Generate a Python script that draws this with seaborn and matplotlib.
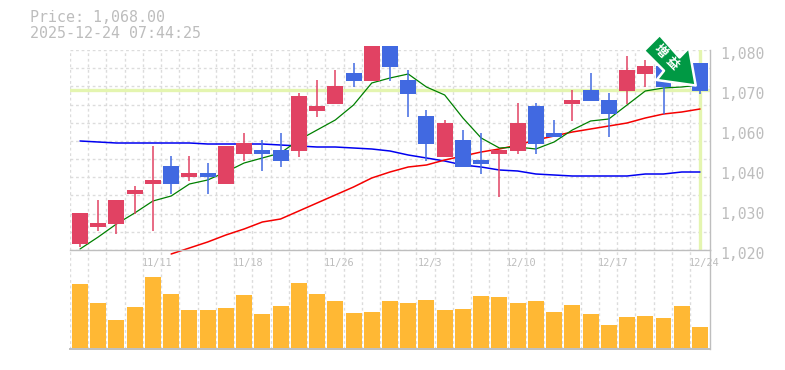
import numpy as np
import pandas as pd
import matplotlib
matplotlib.use("Agg")
import matplotlib.pyplot as plt
from matplotlib.patches import Polygon
from matplotlib.transforms import ScaledTranslation
import seaborn as sns

# daily candles (oldest first)
opens = [1021.8, 1026.9, 1027.8, 1036.8, 1039.8, 1045.2, 1041.9, 1043.1, 1039.8, 1048.8, 1050.0, 1050.0,
         1049.7, 1061.7, 1063.8, 1073.1, 1070.7, 1081.2, 1071.0, 1060.2, 1047.9, 1053.0, 1047.0, 1048.8,
         1049.7, 1063.2, 1055.1, 1063.8, 1068.0, 1065.0, 1067.7, 1072.8, 1075.2, 1074.0, 1076.1]
closes = [1031.1, 1028.1, 1035.0, 1038.0, 1041.0, 1039.8, 1043.1, 1041.9, 1051.2, 1052.1, 1048.8, 1046.7,
          1066.2, 1063.2, 1069.2, 1070.7, 1081.2, 1074.9, 1066.8, 1051.8, 1058.1, 1044.9, 1045.8, 1050.0,
          1058.1, 1051.8, 1053.9, 1065.0, 1064.7, 1060.8, 1074.0, 1075.2, 1068.9, 1070.4, 1067.7]
highs = [1031.1, 1035.0, 1035.0, 1039.2, 1051.2, 1048.2, 1048.2, 1046.1, 1051.2, 1055.1, 1053.0, 1055.1,
         1067.1, 1071.0, 1074.0, 1076.1, 1081.2, 1081.2, 1074.0, 1062.0, 1059.0, 1056.0, 1055.1, 1050.0,
         1064.1, 1064.1, 1059.0, 1068.0, 1073.1, 1067.1, 1078.2, 1077.0, 1075.2, 1074.0, 1076.1]
lows = [1020.9, 1025.7, 1024.8, 1030.8, 1025.7, 1036.8, 1040.7, 1036.8, 1039.8, 1046.7, 1043.7, 1044.9,
        1047.9, 1059.9, 1063.8, 1068.9, 1070.7, 1070.7, 1059.9, 1046.7, 1047.9, 1044.9, 1042.8, 1035.9,
        1048.8, 1048.8, 1053.9, 1058.7, 1064.7, 1053.9, 1063.8, 1068.9, 1060.8, 1070.4, 1066.8]
volume = [64, 45, 28, 41, 71, 54, 38, 38, 40, 53, 34, 42, 65, 54, 47, 35, 36, 47,
          45, 48, 38, 39, 52, 51, 45, 47, 36, 43, 34, 23, 31, 32, 30, 42, 21]

# moving averages, None where the line has not started
ma_short = [1020.3, 1023.9, 1027.8, 1031.1, 1034.7, 1036.2, 1039.8, 1041.0, 1043.4, 1046.1, 1047.6, 1049.1,
            1053.0, 1056.0, 1059.0, 1063.5, 1070.1, 1071.6, 1072.8, 1068.9, 1066.5, 1059.6, 1053.6, 1050.6,
            1050.9, 1050.3, 1052.4, 1056.0, 1058.7, 1059.3, 1063.5, 1067.7, 1068.6, 1068.9, 1069.5]
ma_mid = [1052.7, 1052.4, 1052.1, 1052.1, 1052.1, 1052.1, 1052.1, 1051.8, 1051.8, 1051.8, 1051.8, 1051.5,
          1051.2, 1050.9, 1050.9, 1050.6, 1050.3, 1049.7, 1048.5, 1047.6, 1046.7, 1045.5, 1044.9, 1044.0,
          1043.7, 1042.8, 1042.5, 1042.2, 1042.2, 1042.2, 1042.2, 1042.8, 1042.8, 1043.4, 1043.4]
ma_long = [None, None, None, None, None, 1018.8, 1020.6, 1022.4, 1024.5, 1026.3, 1028.4, 1029.3,
           1031.7, 1034.1, 1036.5, 1038.9, 1041.6, 1043.4, 1044.9, 1045.5, 1047.0, 1048.2, 1049.4, 1050.3,
           1051.5, 1053.0, 1054.2, 1055.4, 1056.3, 1057.2, 1058.1, 1059.6, 1060.8, 1061.4, 1062.3]

price_ticks = [1020, 1032, 1044, 1056, 1068, 1080]
price_labels = ["1,020", "1,030", "1,040", "1,060", "1,070", "1,080"]
date_idx = [4, 9, 14, 19, 24, 29, 34]
date_labels = ["11/11", "11/18", "11/26", "12/3", "12/10", "12/17", "12/24"]
last_price = 1068
title_lines = ["Price: 1,068.00", "2025-12-24 07:44:25"]

RED = "#E14263"
BLUE = "#4169E1"
GRID = "#DCDCDC"
TEXT = "#BDBDBD"
BORDER = "#BEBEBE"
HILITE = "#E4F5B0"

W, H = 785, 370
sns.set_theme(style="white")
plt.rcParams["font.family"] = ["DejaVu Sans Mono", "Noto Sans CJK JP"]

fig = plt.figure(figsize=(W / 100, H / 100), dpi=100)
ax = fig.add_axes([70 / W, 1 - 250 / H, 640 / W, 200 / H])
ax2 = fig.add_axes([70 / W, 1 - 349 / H, 640 / W, 99 / H], sharex=ax)

df = pd.DataFrame({"idx": range(len(opens)), "open": opens, "close": closes, "high": highs, "low": lows,
                   "volume": volume, "short": ma_short, "mid": ma_mid, "long": ma_long}).astype(float)

x_left, x_right = -0.548, 34.55
grid_x = np.arange(len(df)) - 0.548
grid_y = np.linspace(1020, 1080, 12)

for a in (ax, ax2):
    a.set_facecolor("none")
    for s in a.spines.values():
        s.set_visible(False)
    a.vlines(grid_x, 0, 1, transform=a.get_xaxis_transform(), color=GRID, lw=1, ls=(0, (2, 2)), zorder=1)
ax.hlines(grid_y, 0, 1, transform=ax.get_yaxis_transform(), color=GRID, lw=1, ls=(0, (2, 2)), zorder=1)

# highlight of the latest price and day
ax.axhline(last_price, color=HILITE, lw=2.4, zorder=2)
ax.axvline(df["idx"].iloc[-1], color=HILITE, lw=2.4, zorder=2)

# moving averages sit under the candles
for col, color, lw in [("mid", "#0000F0", 1.1), ("long", "#F50000", 1.1), ("short", "#008000", 0.9)]:
    sns.lineplot(data=df, x="idx", y=col, ax=ax, color=color, lw=lw, zorder=3, clip_on=False, legend=False)

colors = [RED if c >= o else BLUE for o, c in zip(df["open"], df["close"])]
ax.vlines(df["idx"], df["low"], df["high"], colors=colors, lw=1.1, zorder=4, clip_on=False)
ax.bar(df["idx"], df["close"] - df["open"], bottom=df["open"], width=0.877, color=colors, lw=0, zorder=5,
       clip_on=False)

sns.barplot(data=df, x="idx", y="volume", ax=ax2, native_scale=True, color="#FFB834", saturation=1,
            width=0.877, lw=0, zorder=3)

ax.set_xlim(x_left, x_right)
ax.set_ylim(1020, 1080)
ax2.set_ylim(-1, 98)
ax.set_xlabel("")
ax.set_ylabel("")
ax2.set_xlabel("")
ax2.set_ylabel("")

# right-hand price scale, labels hang just under their level
ax.yaxis.tick_right()
ax.set_yticks(price_ticks, price_labels)
ax.tick_params(axis="y", length=0, pad=7, labelsize=10.6, labelcolor=TEXT)
ax.tick_params(axis="x", length=0, labelbottom=False)
down = ScaledTranslation(0, -3 / 100, fig.dpi_scale_trans)
for lab in ax.get_yticklabels():
    lab.set_transform(lab.get_transform() + down)

# date labels sit inside the top of the volume panel
ax2.set_yticks([])
ax2.xaxis.tick_top()
ax2.set_xticks(date_idx, date_labels)
ax2.tick_params(axis="x", length=0, pad=-13, labelsize=7.4, labelcolor=TEXT)
right = ScaledTranslation(4 / 100, 0, fig.dpi_scale_trans)
for lab in ax2.get_xticklabels():
    lab.set_transform(lab.get_transform() + right)

# panel borders
for side in ["top", "bottom", "right"]:
    ax2.spines[side].set_visible(True)
    ax2.spines[side].set_color(BORDER)
ax2.spines["bottom"].set_linewidth(1.4)
ax2.spines["top"].set_linewidth(1)
ax2.spines["right"].set_linewidth(1)
ax.spines["right"].set_visible(True)
ax.spines["right"].set_color(BORDER)
ax.spines["right"].set_linewidth(1)

fig.text(30 / W, 1 - 18 / H, title_lines[0], color=TEXT, fontsize=10.8, va="center")
fig.text(30 / W, 1 - 33 / H, title_lines[1], color=TEXT, fontsize=10.8, va="center")

# green badge arrow over the last candles
arrow_px = [(695.7, 85.5), (689, 47.7), (679.5, 57.5), (659.7, 35), (644, 50.7), (664, 70.7), (656.7, 80)]
arrow_pts = [(x / W, 1 - y / H) for x, y in arrow_px]
fig.add_artist(Polygon(arrow_pts, closed=True, transform=fig.transFigure, facecolor="#009944",
                       edgecolor="white", lw=1.8, joinstyle="round", zorder=10))
fig.text(660 / W, 1 - 51 / H, "増", color="white", fontsize=9, fontweight="bold", rotation=-45,
         ha="center", va="center", family="Noto Sans CJK JP", zorder=11)
fig.text(672 / W, 1 - 63 / H, "益", color="white", fontsize=9, fontweight="bold", rotation=-45,
         ha="center", va="center", family="Noto Sans CJK JP", zorder=11)

fig.savefig("out.png", dpi=100, facecolor="white")
